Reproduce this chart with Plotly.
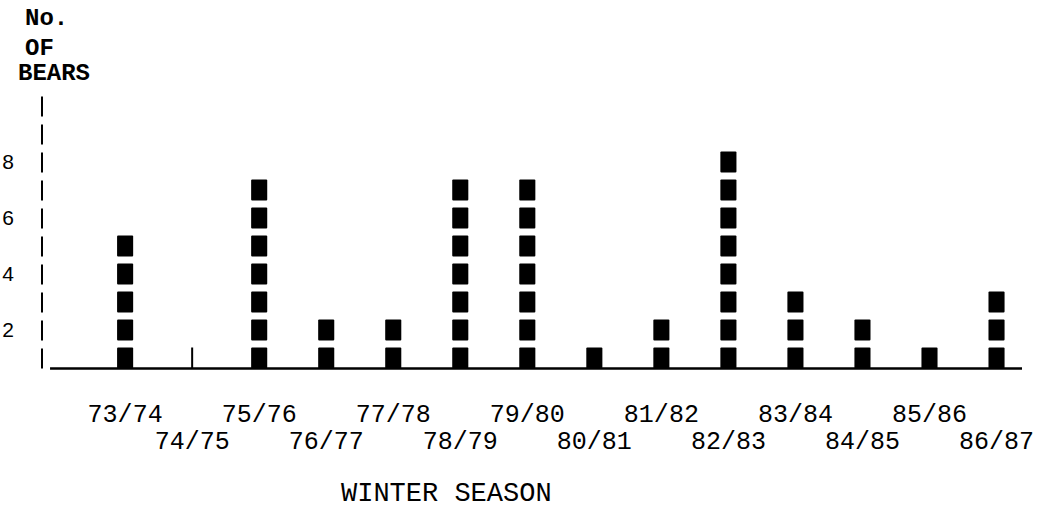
import plotly.graph_objects as go

seasons = ["73/74", "74/75", "75/76", "76/77", "77/78", "78/79", "79/80",
           "80/81", "81/82", "82/83", "83/84", "84/85", "85/86", "86/87"]
bears = [5, 0, 7, 2, 2, 7, 7, 1, 2, 8, 3, 2, 1, 3]
y_tick_vals = [2, 4, 6, 8]
x_title = "WINTER SEASON"
y_title_lines = ["No.", "OF", "BEARS"]

idx = list(range(len(seasons)))

# one stacked square per bear
sq_x, sq_base = [], []
for i, n in zip(idx, bears):
    for k in range(1, n + 1):
        sq_x.append(i)
        sq_base.append(k - 0.375)

zero_x = [i for i, n in zip(idx, bears) if n == 0]

fig = go.Figure()
fig.add_trace(go.Bar(
    x=sq_x, y=[0.75] * len(sq_x), base=sq_base, width=0.24,
    marker=dict(color="black", line=dict(width=0), cornerradius=1),
    showlegend=False, hoverinfo="skip"))
fig.add_trace(go.Bar(
    x=zero_x, y=[0.75] * len(zero_x), base=0.625, width=0.03,
    marker=dict(color="black", line=dict(width=0)),
    showlegend=False, hoverinfo="skip"))
# invisible trace for second x axis
fig.add_trace(go.Scatter(x=idx, y=[None] * len(idx), xaxis="x2", yaxis="y",
                         showlegend=False, hoverinfo="skip"))

mono = "Liberation Mono"
even = [i for i in idx if i % 2 == 0]
odd = [i for i in idx if i % 2 == 1]

fig.update_layout(
    width=1047, height=513,
    margin=dict(l=42, r=25, t=78, b=127, autoexpand=False),
    paper_bgcolor="white", plot_bgcolor="white",
    barmode="overlay",
    xaxis=dict(range=[-1.24, 13.38], tickvals=even,
               ticktext=[seasons[i] for i in even], automargin=False,
               showgrid=False, zeroline=False, showline=False, ticks="",
               tickfont=dict(family=mono, size=25, color="black"),
               ticklabelstandoff=10),
    xaxis2=dict(range=[-1.24, 13.38], overlaying="x", side="bottom", anchor="y",
                tickvals=odd, ticktext=[seasons[i] for i in odd], automargin=False,
                showgrid=False, zeroline=False, showline=False, ticks="",
                tickfont=dict(family=mono, size=25, color="black"),
                ticklabelstandoff=37),
    yaxis=dict(range=[0, 11], tickvals=y_tick_vals, automargin=False,
               ticktext=[str(v) for v in y_tick_vals],
               showgrid=False, zeroline=False, showline=False, ticks="",
               tickfont=dict(family="Liberation Sans", size=21, color="black"),
               ticklabelstandoff=27),
)

# baseline (x axis line)
fig.add_shape(type="line", xref="x", yref="y", x0=-1.12, x1=13.38, y0=0.625, y1=0.625,
              line=dict(color="black", width=2.5))
# dashed y axis
fig.add_shape(type="line", xref="paper", yref="y", x0=0, x1=0, y0=0.625, y1=10.375,
              line=dict(color="black", width=2, dash="20px,8px"))

# y-axis title, stacked
title_pos = [(0.0046, 1.193), (-0.003, 1.097), (0.0122, 1.013)]
for txt, (px, py) in zip(y_title_lines, title_pos):
    fig.add_annotation(text=txt, xref="paper", yref="paper", x=px, y=py,
                       xanchor="center", yanchor="middle", showarrow=False,
                       font=dict(family=mono, size=24, color="black", weight="bold"))

fig.add_annotation(text=x_title, xref="x", yref="paper", x=4.79, y=-0.352,
                   xanchor="center", yanchor="middle", showarrow=False,
                   font=dict(family=mono, size=27, color="black"))

fig.write_html("out.html", config={"displayModeBar": False},
               post_script="document.body.style.margin='0';document.body.style.padding='0';")
